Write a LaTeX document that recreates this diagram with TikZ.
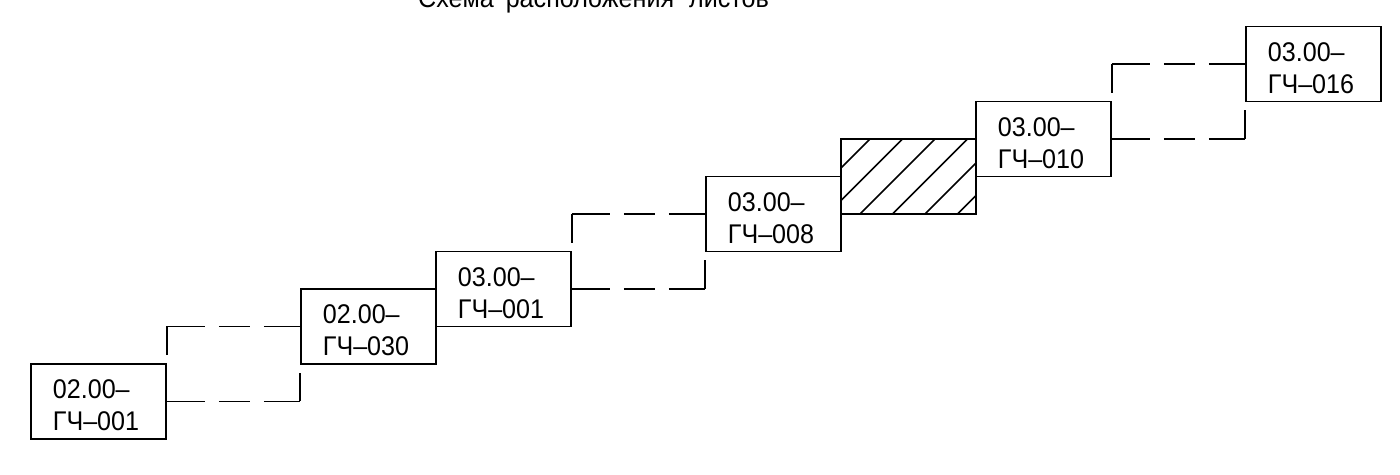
\documentclass[tikz,border=0pt]{standalone}
\usepackage{fontspec}
\setmainfont{Liberation Sans}[FakeStretch=0.93]
\usetikzlibrary{calc}
\newcommand{\capstrut}{\rule{0pt}{27.4pt}}
\begin{document}
\begin{tikzpicture}[x=1pt,y=-1pt,
  sheet/.style={draw, line width=1.8pt, anchor=north west,
    minimum width=135pt, minimum height=75pt,
    inner xsep=22pt, inner ysep=0pt, text width=91pt, align=left,
    font=\fontsize{27}{32}\selectfont},
  blank/.style={draw, line width=1.8pt, anchor=north west,
    minimum width=135pt, minimum height=75pt, inner sep=0pt},
  wire/.style={line width=1.8pt},
  link/.style={line width=1.8pt,
    dash pattern=on 38pt off 14pt on 31pt off 14pt on 38pt off 30pt},
  hatch/.style={line width=1.5pt}]
\useasboundingbox (0,0) rectangle (1400,474);

% heading
\node[anchor=base west, inner sep=0pt, font=\fontsize{27}{32}\selectfont]
  (title) at (418,7) {Схема\hspace{12pt}расположения\hspace{15pt}листов};

% sheets
\node[sheet] (A) at (30,363)   {\capstrut 02.00–\\ГЧ–001};
\node[sheet] (B) at (300,288)  {\capstrut 02.00–\\ГЧ–030};
\node[sheet] (C) at (435,250.5){\capstrut 03.00–\\ГЧ–001};
\node[sheet] (D) at (705,175.5){\capstrut 03.00–\\ГЧ–008};
\node[blank] (H) at (840,138)  {};
\node[sheet] (E) at (975,100.5){\capstrut 03.00–\\ГЧ–010};
\node[sheet] (F) at (1245,25.5){\capstrut 03.00–\\ГЧ–016};

% hatched sheet
\begin{scope}
  \clip (H.south west) rectangle (H.north east);
  \foreach \c in {976.5,1009,1041.5,1074,1106.5,1139,1171.5,1204}
    \draw[hatch] (\c-230,230) -- (\c-120,120);
\end{scope}
\node[blank] at (840,138) {};

% joints between neighbouring sheets
\foreach \p/\q in {A/B,C/D,E/F}{
  \draw[link] (\p.east) -- (\p.east -| \q.west);
  \draw[wire] (\p.east -| \q.west) -- ($(\q.south west)+(0,8)$);
  \draw[wire] ($(\p.north east)+(0,-8)$) -- (\p.north east |- \q.west);
  \draw[link] (\p.north east |- \q.west) -- (\q.west);
}
\end{tikzpicture}
\end{document}
